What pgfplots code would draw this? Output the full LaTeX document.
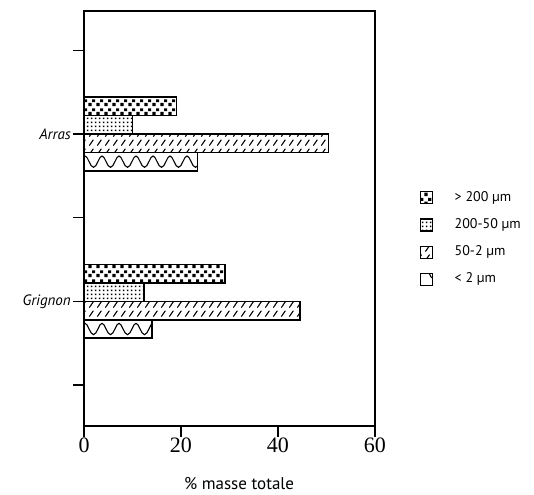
\documentclass[border=0pt]{standalone}
\usepackage{fontspec}
\setmainfont{PT Sans}
\newfontfamily\serifdigits{Liberation Serif}
\usepackage{pgfplots}
\pgfplotsset{compat=1.18}
\usetikzlibrary{patterns}

\pgfdeclarepatternformonly{coarse}{\pgfqpoint{0pt}{0pt}}{\pgfqpoint{8pt}{9pt}}{\pgfqpoint{8pt}{9pt}}{%
  \pgfpathrectangle{\pgfqpoint{0.5pt}{1pt}}{\pgfqpoint{3.5pt}{3.5pt}}%
  \pgfpathrectangle{\pgfqpoint{4.5pt}{5.5pt}}{\pgfqpoint{3.5pt}{3pt}}%
  \pgfusepath{fill}}
\pgfdeclarepatternformonly{finedots}{\pgfqpoint{0pt}{0pt}}{\pgfqpoint{3.6pt}{3.6pt}}{\pgfqpoint{3.6pt}{3.6pt}}{%
  \pgfpathrectangle{\pgfqpoint{1pt}{1pt}}{\pgfqpoint{1.6pt}{1.6pt}}%
  \pgfusepath{fill}}
\pgfdeclarepatternformonly{slashes}{\pgfqpoint{0pt}{0pt}}{\pgfqpoint{8pt}{9.3pt}}{\pgfqpoint{8pt}{9.3pt}}{%
  \pgfsetlinewidth{1.2pt}%
  \pgfpathmoveto{\pgfqpoint{1.5pt}{1.5pt}}%
  \pgfpathlineto{\pgfqpoint{6pt}{7.8pt}}%
  \pgfusepath{stroke}}
\pgfdeclarepatternformonly{wave}{\pgfqpoint{0pt}{7.03pt}}{\pgfqpoint{17pt}{25.62pt}}{\pgfqpoint{17pt}{18.593pt}}{%
  \pgfsetlinewidth{1.1pt}%
  \pgfpathmoveto{\pgfqpoint{0pt}{22pt}}%
  \pgfpathcurveto{\pgfqpoint{3pt}{22pt}}{\pgfqpoint{5pt}{10.6pt}}{\pgfqpoint{8.5pt}{10.6pt}}%
  \pgfpathcurveto{\pgfqpoint{12pt}{10.6pt}}{\pgfqpoint{14pt}{22pt}}{\pgfqpoint{17pt}{22pt}}%
  \pgfusepath{stroke}}

\pgfplotsset{
  mybar/.style={xbar, bar width=0.22, draw=black, line width=1.6pt,
    legend image code/.code={\draw[##1, line width=1.2pt] (0pt,-6pt) rectangle (12pt,6pt);}},
}

\begin{document}
\begin{tikzpicture}
\path[use as bounding box] (-84pt,-68pt) rectangle (450pt,426pt);
\begin{axis}[
  scale only axis,
  width=291pt, height=415pt,
  xmin=0, xmax=60,
  ymin=-0.49, ymax=4.47,
  xtick={0,20,40,60},
  ytick={0,1,2,3,4},
  yticklabels={,Grignon,,Arras,},
  xtick pos=lower, ytick pos=left,
  tick align=outside,
  major tick length=11pt,
  axis line style={line width=1.5pt},
  tick style={line width=1.2pt, black},
  /pgf/number format/assume math mode=true,
  xticklabel style={font=\serifdigits\fontsize{22}{24}\selectfont, inner sep=1pt},
  yticklabel style={font=\itshape\fontsize{15}{17}\selectfont, inner sep=2pt},
  xlabel={\% masse totale},
  xlabel style={font=\fontsize{17}{19}\selectfont, at={(axis description cs:0.533,0)}, anchor=base, yshift=-63pt},
  legend style={draw=none, fill=none, at={(axis description cs:1.142,0.571)}, anchor=north west,
    font=\fontsize{14}{16}\selectfont, row sep=14pt, column sep=22pt,
    nodes={inner sep=0pt, text height=10pt, text depth=3pt}},
  legend cell align=left,
]
\addplot[mybar, bar shift=0.33, pattern=coarse] coordinates {(19.1,3) (29.1,1)};
\addlegendentry{> 200 µm}
\addplot[mybar, bar shift=0.11, pattern=finedots] coordinates {(10.0,3) (12.4,1)};
\addlegendentry{200-50 µm}
\addplot[mybar, bar shift=-0.11, pattern=slashes] coordinates {(50.4,3) (44.5,1)};
\addlegendentry{50-2 µm}
\addplot[mybar, bar shift=-0.33, pattern=wave] coordinates {(23.4,3) (14.0,1)};
\addlegendentry{< 2 µm}
\end{axis}
\end{tikzpicture}
\end{document}
